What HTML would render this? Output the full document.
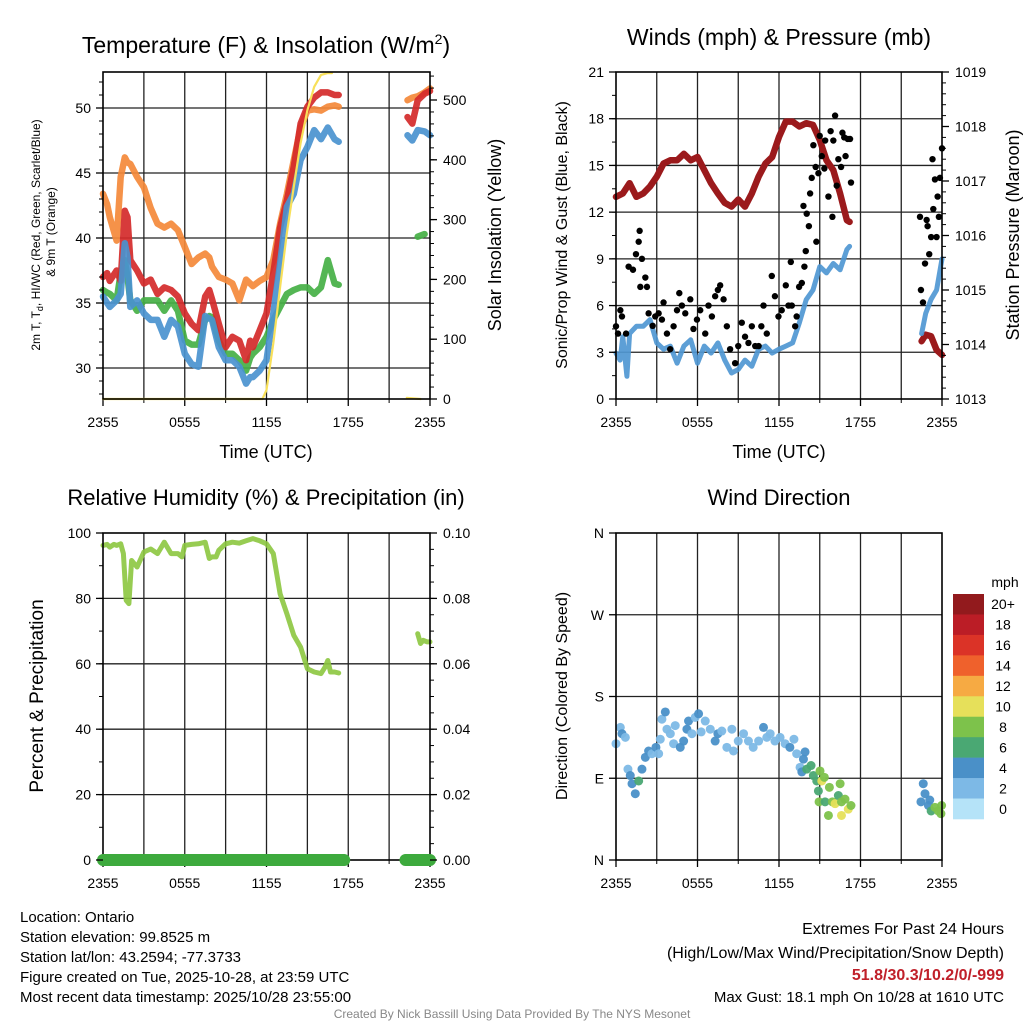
<!DOCTYPE html>
<html><head><meta charset="utf-8"><style>
html,body{margin:0;padding:0;background:#fff;}
svg{display:block;font-family:"Liberation Sans",sans-serif;}
</style></head><body>
<svg id="c" width="1024" height="1024" viewBox="0 0 1024 1024"></svg>
<script>
// ---- data (time in hours since 2355 UTC) ----
const xTickLabels=["2355","0555","1155","1755","2355"];
const tempT=[0,.3,.5,1,1.3,1.6,1.8,2,2.5,3,3.5,4,4.5,5,5.5,6,6.5,7,7.5,7.8,8,8.5,9,9.5,10,10.5,10.8,11,11.5,12,12.5,13,13.5,14,14.5,15,15.5,16,16.5,17,17.3,null,22.35,22.7,23.1,23.6,24];
const tempRed=[37,37.3,36.7,37.5,36.7,42.1,41.6,38.3,37.5,36.5,36.8,35.7,36.2,36,35.5,34.2,33.4,32.9,35.5,36,35.3,33.4,31.6,32.4,32.1,30.6,32.1,31.6,32.9,34.2,37.3,40.8,42.9,45.5,48.8,50.1,50.8,51.2,51.2,51,51,null,49.3,48.8,50.6,51.1,51.3];
const tempOrange=[43.4,42.6,41.6,39.8,44.7,46.2,45.8,45.7,44.7,43.9,42.3,41.1,40.8,41.1,40.6,39.3,38,38.5,38.8,38.5,37.8,37,36.8,36.5,35.2,36.8,36.5,36.3,36.7,37,38.3,41.1,43.4,46,48.5,49.8,49.9,49.8,50.1,50.2,50.1,null,50.6,50.8,50.9,51.2,51.5];
const tempGreen=[36,35.8,35.7,35.2,37.3,38.3,37,35.2,34.4,35.2,35.2,35.2,34.4,35.2,34.4,32.1,31.8,31.8,33.7,34,33.9,32.1,31.1,31.1,30.6,29.8,30.8,31.1,31.6,32.4,33.7,34.7,35.7,36,36.2,36.2,35.7,36.2,38.3,36.5,36.4,null,null,null,40.1,40.3,null];
const tempBlue=[35.5,35,34.7,35.2,35.7,39.6,38.5,34.7,35.2,34.2,33.7,33.7,32.4,33.7,33.2,31.1,30.3,30.1,34,33.8,33.7,31.6,30.6,30.6,30.1,28.8,29.3,29.3,29.8,30.6,34.2,38,42.4,43.4,46,47,48.3,47.6,48.5,47.6,47.4,null,47.9,47.5,48.3,48.2,47.9];
const solarT=[0,11.7,12,12.5,13,13.5,14,14.5,15,15.5,16,16.5,16.8,null,22.3,23.3];
const solar=[0,0,15,93,187,278,355,428,483,522,542,545,545,null,2,0];
const windT=[0,.3,.5,.8,1,1.5,2,2.5,3,3.5,4,4.5,5,5.5,6,6.5,7,7.5,8,8.5,9,9.5,10,10.5,11,11.5,12,12.5,13,13.5,14,14.5,15,15.5,16,16.5,17,17.2,null,22.5,22.8,23.2,23.6,24];
const windSpd=[2.95,2.5,4,1.46,4.2,4.67,4.67,5.1,3.6,3.2,3.4,2.3,3.4,3.8,2.3,3.4,2.95,3.6,2.5,1.67,1.9,2.5,2.1,3.2,3.4,2.95,3.2,3.4,3.6,4.9,6.38,7,8.5,8.1,8.7,8.3,9.6,9.8,null,4.2,5.5,6.4,7,9];
const presT=[0,.5,1,1.5,2,2.5,3,3.5,4,4.5,5,5.5,6,6.5,7,7.5,8,8.5,9,9.5,10,10.5,11,11.5,12,12.5,13,13.5,14,14.5,15,15.5,16,16.5,17,17.2,null,22.5,22.8,23.2,23.6,24];
const pressure=[1016.71,1016.77,1016.96,1016.71,1016.77,1016.9,1017.08,1017.32,1017.38,1017.38,1017.5,1017.38,1017.44,1017.2,1016.96,1016.77,1016.6,1016.53,1016.66,1016.53,1016.77,1017.08,1017.32,1017.44,1017.81,1018.09,1018.09,1018,1018.06,1018.03,1017.75,1017.38,1017.2,1016.77,1016.28,1016.25,null,1014.06,1014.18,1014.15,1013.9,1013.81];
const gustT=[0,.15,.32,.44,.74,.93,1.25,1.47,1.67,1.74,1.91,2.16,2.28,1.79,2.4,2.7,2.89,3.14,3.38,3.5,3.75,3.99,4.24,4.49,4.66,4.85,5.1,5.47,5.7,5.96,6.2,6.57,6.81,7.06,7.3,7.5,7.67,7.92,8.16,8.4,8.77,9,9.26,9.5,9.75,10,10.25,10.5,10.7,10.86,11.1,11.47,11.7,11.96,12.2,12.5,12.7,12.87,12.94,13.19,13.3,13.48,13.68,13.87,13.97,13.8,14.04,14.2,14.29,14.41,14.53,14.75,14.7,14.9,15,15.15,15.34,15.4,15.64,15.8,15.93,16,16.13,16.25,16.37,16.57,16.67,16.8,16.9,17.06,17.23,17.3,22.38,22.45,22.6,22.75,22.87,22.94,23.06,23.2,23.3,23.36,23.48,23.6,23.68,23.77,23.85,24];
const gust=[4.67,4.2,5.7,5.3,4.2,8.5,8.3,9.3,10.1,10.8,9,7.8,7.2,7.2,5.5,4.7,5.3,5.5,5.1,6.2,4.2,3.2,4.67,5.7,6.8,6,5.5,6.4,4.5,5.1,5.7,4.2,6,5.3,6.6,7,7.3,6.4,4.67,3.2,2.3,3.4,4.9,4,3.6,4.67,3.4,3.4,4.67,6,4.2,7.9,6.6,5.3,5.7,7.3,6,8.8,6,4.67,5.3,7.2,7.45,8.5,9.5,12.4,11.9,11.1,13.2,14.2,16.3,10.1,14.9,14.5,16.9,15.6,14.8,16.6,13,17.2,11.7,16.6,18.2,13.7,15.4,14.9,17.1,16.8,15.6,16.7,16.7,13.9,11.7,7,6.2,8.7,11.5,11.1,9.3,10.4,15.4,12.2,14.1,10.4,13,11.7,14.2,16.1];
const rhT=[0,.3,.5,.8,1,1.3,1.5,1.7,1.9,2.1,2.3,2.5,3,3.5,4,4.5,5,5.5,5.8,6,6.5,7,7.5,7.8,8,8.3,8.5,9,9.5,10,10.5,11,11.5,12,12.5,13,13.5,14,14.5,15,15.5,16,16.3,16.5,16.7,17,17.3,null,23.1,23.3,23.5,23.8,24];
const rh=[96.2,96.5,95.7,96.5,96.2,96.7,93.7,79.4,78.4,91.6,90.6,89.6,94.2,95.1,93.7,97.2,93.7,93.7,92.7,96.2,96.5,96.7,97.2,92.2,92.7,92.7,94.7,96.7,97.2,96.9,97.6,98.3,97.6,96.7,93.7,81.4,75.3,68.7,65.1,58.5,57.5,57,59,61,57.5,57.5,57.2,null,69.2,66.2,67.2,66.7,66.7];
const precipT=[0,17.7,null,22.2,24];
const precip=[0,0,null,0,0];
const dirT=[0,.32,.44,.69,.88,1.05,1.18,1.42,1.67,1.91,2.16,2.4,2.65,2.94,3.14,3.26,3.38,3.63,3.75,4,4.24,4.36,4.73,4.98,5.22,5.34,5.59,5.83,6.08,6.27,6.57,6.94,7.3,7.5,7.79,8.16,8.53,8.65,9,9.39,9.75,10.1,10.5,10.86,11.1,11.35,11.7,12.08,12.45,12.8,13.1,13.3,13.8,13.92,13.55,13.68,14.04,14.36,14.53,14.78,14.9,15.02,15.15,15.34,14.95,15.39,15.64,15.71,15.93,16.13,16.37,16.5,16.6,16.86,17.1,16.6,17.3,22.62,22.75,22.45,23,23.2,23.48,23.73,23.97,23.92,23.1];
const dirDeg=[128,146,139,135,100,93,84,73,87,100,113,120,117,124,117,133,155,163,144,139,128,148,124,131,144,153,139,157,161,141,153,144,131,139,142,124,144,120,131,139,131,124,131,146,135,139,131,135,128,124,133,117,111,119,102,97,100,104,93,87,76,98,87,91,64,64,49,80,64,62,71,84,64,67,56,49,60,84,73,64,60,54,58,54,60,51,66];
const dirSpd=[3,3,4,3,3,4,4,4,6,4,4,4,3,4,3,3,3,4,3,3,3,3,4,4,4,4,3,3,4,3,3,3,4,4,3,3,3,3,3,3,3,3,3,4,3,3,3,3,3,4,3,3,4,4,3,4,6,6,6,6,6,8,10,8,8,6,8,8,8,10,6,8,8,8,10,10,8,4,4,4,4,6,8,8,8,8,4];
const cbLabels=["20+","18","16","14","12","10","8","6","4","2","0"];
const cbColors=["#921a1d","#bb1d26","#db3327","#ef612c","#f6aa43","#e6e05a","#7dc24b","#4aa873","#4a90c8","#7db9e6","#b5e3f8"];

// ---- drawing ----
const S=document.getElementById('c');const NS='http://www.w3.org/2000/svg';
function mk(tag,at,parent){const e=document.createElementNS(NS,tag);for(const k in at)e.setAttribute(k,at[k]);(parent||S).appendChild(e);return e;}
function txt(x,y,s,size,anchor,extra){const e=mk('text',Object.assign({x:x,y:y,'font-size':size,'text-anchor':anchor||'middle',fill:'#000'},extra||{}));e.textContent=s;return e;}
function lin(a,b,c,d){return (v)=>c+(v-a)*(d-c)/(b-a);}
function pathOf(ts,vs,fx,fy){let d='',pen=false;for(let i=0;i<ts.length;i++){if(ts[i]===null||vs[i]===null){pen=false;continue;}d+=(pen?'L':'M')+fx(ts[i]).toFixed(1)+' '+fy(vs[i]).toFixed(1);pen=true;}return d;}
function frame(x0,x1,y0,y1,name){
  const g=mk('g',{});
  for(let h=3;h<24;h+=3){const x=x0+(x1-x0)*h/24;mk('line',{x1:x,y1:y0,x2:x,y2:y1,stroke:'#222','stroke-width':1.3},g);}
  const fx=lin(0,24,x0,x1);
  xTickLabels.forEach((l,i)=>{const x=fx(i*6);mk('line',{x1:x,y1:y1,x2:x,y2:y1+7,stroke:'#000','stroke-width':1.3},g);
    const t=txt(x,y1+28,l,14);});
  for(let h=3;h<24;h+=6){const x=fx(h);mk('line',{x1:x,y1:y1,x2:x,y2:y1+4,stroke:'#000','stroke-width':1},g);}
  return fx;
}
function box(x0,x1,y0,y1,name){const r=mk('rect',{x:x0,y:y0,width:x1-x0,height:y1-y0,fill:'none',stroke:'#000','stroke-width':1.6});}
function yticks(vals,labels,fy,x,side,minorStep,lo,hi){
  vals.forEach((v,i)=>{const y=fy(v);
    if(side==='L'){mk('line',{x1:x,y1:y,x2:x-7,y2:y,stroke:'#000','stroke-width':1.3});const t=txt(x-12,y+5,labels[i],14,'end');}
    else{mk('line',{x1:x,y1:y,x2:x+7,y2:y,stroke:'#000','stroke-width':1.3});const t=txt(x+13,y+5,labels[i],14,'start');}});
  if(minorStep){for(let v=lo;v<=hi+1e-9;v+=minorStep){const y=fy(v);mk('line',{x1:x,y1:y,x2:side==='L'?x-4:x+4,y2:y,stroke:'#000','stroke-width':1});}}
}
function hgrid(vals,fy,x0,x1){vals.forEach(v=>{const y=fy(v);mk('line',{x1:x0,y1:y,x2:x1,y2:y,stroke:'#222','stroke-width':1.3});});}
function series(ts,vs,fx,fy,color,w,name,op){const p=mk('path',{d:pathOf(ts,vs,fx,fy),fill:'none',stroke:color,'stroke-width':w,'stroke-linejoin':'round','stroke-linecap':'round','stroke-opacity':op||0.92});return p;}

// Panel 1: temperature
(function(){const x0=103,x1=430,y0=72,y1=399;
  const fx=frame(x0,x1,y0,y1,'temp');const fy=lin(30,50,368,108);const fs=lin(0,500,399,100);
  hgrid([30,35,40,45,50],fy,x0,x1);
  series(tempT,tempOrange,fx,fy,'#f4893a',6.5,'series-9m-temp');
  series(tempT,tempGreen,fx,fy,'#45b045',6.5,'series-dewpoint');
  series(tempT,tempRed,fx,fy,'#d42a2a',6.5,'series-2m-temp');
  series(tempT,tempBlue,fx,fy,'#4a93cf',6.5,'series-windchill');
  series(solarT,solar.map(v=>v===null?null:Math.min(v,545)),fx,fs,'#f8e05a',2.2,'series-solar',1);
  box(x0,x1,y0,y1,'temp');
  yticks([30,35,40,45,50],['30','35','40','45','50'],fy,x0,'L',1,28,52);
  yticks([0,100,200,300,400,500],['0','100','200','300','400','500'],fs,x1,'R',20,0,540);
  let t=txt(266,53,'Temperature (F) & Insolation (W/m',23);
  const ts=mk('tspan',{dy:-9,'font-size':14},t);ts.textContent='2';const t2=mk('tspan',{dy:9},t);t2.textContent=')';
  t=txt(266,458,'Time (UTC)',18);
  t=txt(0,0,'',12,'middle',{transform:'translate(40,235) rotate(-90)'});t.innerHTML='2m T, T<tspan font-size="9" dy="3">d</tspan><tspan dy="-3">, HI/WC (Red, Green, Scarlet/Blue)</tspan>';
  t=txt(0,0,'& 9m T (Orange)',12,'middle',{transform:'translate(55,232) rotate(-90)'});
  t=txt(0,0,'Solar Insolation (Yellow)',18,'middle',{transform:'translate(501,235) rotate(-90)'});
})();

// Panel 2: wind & pressure
(function(){const x0=616,x1=942,y0=72,y1=399;
  const fx=frame(x0,x1,y0,y1,'wind');const fy=lin(0,21,399,72);const fp=lin(1013,1019,399,72);
  hgrid([3,6,9,12,15,18],fy,x0,x1);
  series(presT,pressure,fx,fp,'#9b1a1c',6.5,'series-pressure',1);
  series(windT,windSpd,fx,fy,'#4f97d2',5,'series-wind-speed');
  const g=mk('g',{});
  gustT.forEach((t,i)=>{const c=mk('circle',{cx:fx(t),cy:fy(gust[i]),r:3.2,fill:'#000'},g);});
  box(x0,x1,y0,y1,'wind');
  yticks([0,3,6,9,12,15,18,21],['0','3','6','9','12','15','18','21'],fy,x0,'L',1.5,0,21);
  yticks([1013,1014,1015,1016,1017,1018,1019],['1013','1014','1015','1016','1017','1018','1019'],fp,x1,'R',0.2,1013,1019);
  let t=txt(779,45,'Winds (mph) & Pressure (mb)',23);
  t=txt(779,458,'Time (UTC)',18);
  t=txt(0,0,'Sonic/Prop Wind & Gust (Blue, Black)',16,'middle',{transform:'translate(567,235) rotate(-90)'});
  t=txt(0,0,'Station Pressure (Maroon)',18,'middle',{transform:'translate(1019,235) rotate(-90)'});
})();

// Panel 3: RH & precip
(function(){const x0=103,x1=430,y0=533,y1=860;
  const fx=frame(x0,x1,y0,y1,'rh');const fy=lin(0,100,860,533);const fpr=lin(0,0.1,860,533);
  hgrid([20,40,60,80],fy,x0,x1);
  series(rhT,rh,fx,fy,'#8cc63f',5,'series-rh',0.9);
  box(x0,x1,y0,y1,'rh');
  series(precipT,precip,fx,fpr,'#3daa3d',12,'series-precip',1);
  yticks([0,20,40,60,80,100],['0','20','40','60','80','100'],fy,x0,'L',10,0,100);
  yticks([0,.02,.04,.06,.08,.1],['0.00','0.02','0.04','0.06','0.08','0.10'],fpr,x1,'R',0.005,0,0.1);
  let t=txt(266,505,'Relative Humidity (%) & Precipitation (in)',22);
  t=txt(0,0,'Percent & Precipitation',19,'middle',{transform:'translate(43,696) rotate(-90)'});
})();

// Panel 4: wind direction
(function(){const x0=616,x1=942,y0=533,y1=860;
  const fx=frame(x0,x1,y0,y1,'dir');const fy=lin(0,360,860,533);
  hgrid([90,180,270],fy,x0,x1);
  const g=mk('g',{});
  function col(s){const idx=Math.min(10,Math.floor(s/2));return cbColors[10-idx];}
  dirT.forEach((t,i)=>{const c=mk('circle',{cx:fx(t),cy:fy(dirDeg[i]),r:4.5,fill:col(dirSpd[i]),'fill-opacity':0.95},g);});
  box(x0,x1,y0,y1,'dir');
  yticks([0,90,180,270,360],['N','E','S','W','N'],fy,x0,'L',0,0,0);
  let t=txt(779,505,'Wind Direction',22);
  t=txt(0,0,'Direction (Colored By Speed)',16,'middle',{transform:'translate(567,696) rotate(-90)'});
  const cb=mk('g',{});
  const bh=(819-594)/11;
  cbColors.forEach((c,i)=>{const r=mk('rect',{x:953,y:594+i*bh,width:31,height:bh+0.3,fill:c},cb);
    const l=txt(1003,594+i*bh+bh/2+5,cbLabels[i],14);});
  t=txt(1005,587,'mph',14);
})();

// Footer
(function(){
  const L=["Location: Ontario","Station elevation: 99.8525 m","Station lat/lon: 43.2594; -77.3733","Figure created on Tue, 2025-10-28, at 23:59 UTC","Most recent data timestamp: 2025/10/28 23:55:00"];
  L.forEach((s,i)=>{const t=txt(20,922+i*20,s,15,'start');});
  let t=txt(1004,934,'Extremes For Past 24 Hours',16,'end');
  t=txt(1004,958,'(High/Low/Max Wind/Precipitation/Snow Depth)',16,'end');
  t=txt(1004,980,'51.8/30.3/10.2/0/-999',16,'end',{fill:'#c0202a','font-weight':'bold'});
  t=txt(1004,1002,'Max Gust: 18.1 mph On 10/28 at 1610 UTC',15,'end');
  t=txt(512,1018,'Created By Nick Bassill Using Data Provided By The NYS Mesonet',12,'middle',{fill:'#888'});
})();
</script>
</body></html>
